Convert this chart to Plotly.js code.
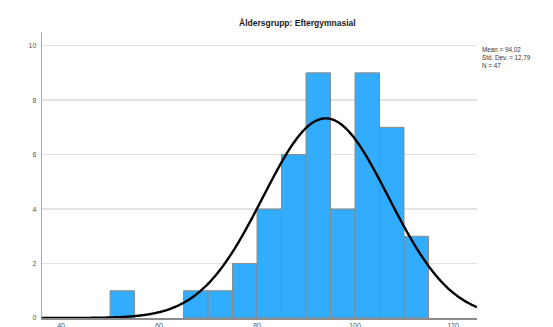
<!DOCTYPE html>
<html>
<head>
<meta charset="utf-8">
<script src="https://cdn.plot.ly/plotly-3.0.1.min.js"></script>
<style>
  html, body { margin: 0; padding: 0; background: #ffffff; }
  #chart { width: 553px; height: 327px; }
</style>
</head>
<body>
<div id="chart"></div>
<script>
// Histogram of the post-secondary age group, with a fitted normal curve
const chartTitle = 'Åldersgrupp: Eftergymnasial';
const binCenters = [52.5, 67.5, 72.5, 77.5, 82.5, 87.5, 92.5, 97.5, 102.5, 107.5, 112.5];
const counts     = [1, 1, 1, 2, 4, 6, 9, 4, 9, 7, 3];
const binWidth = 5;
const meanValue = 94.02;
const stdDev = 12.79;
const nCount = 47;
const xTicks = [40, 60, 80, 100, 120];
const yTicks = [0, 2, 4, 6, 8, 10];

const xMin = 36.1, xMax = 124.9;

// normal curve scaled to the histogram (N * bin width * density)
const curveX = [];
const curveY = [];
const steps = 300;
for (let i = 0; i <= steps; i++) {
  const x = xMin + (xMax - xMin) * i / steps;
  const z = (x - meanValue) / stdDev;
  curveX.push(x);
  curveY.push(nCount * binWidth * Math.exp(-0.5 * z * z) / (stdDev * Math.sqrt(2 * Math.PI)));
}

const fmt = v => v.toFixed(2).replace('.', ',');

const traces = [
  {
    type: 'bar',
    x: binCenters,
    y: counts,
    width: binWidth,
    marker: { color: '#32acfd', line: { color: '#8a8a8a', width: 1 } },
    hoverinfo: 'x+y'
  },
  {
    type: 'scatter',
    mode: 'lines',
    x: curveX,
    y: curveY,
    line: { color: '#000000', width: 2.4, shape: 'spline' },
    hoverinfo: 'skip'
  }
];

const layout = {
  width: 553,
  height: 327,
  margin: { l: 42, r: 76, t: 32, b: 9 },
  paper_bgcolor: '#ffffff',
  plot_bgcolor: '#ffffff',
  showlegend: false,
  font: { family: 'Liberation Sans, Arial, sans-serif', size: 7, color: '#555555' },
  xaxis: {
    range: [xMin, xMax],
    tickvals: xTicks,
    ticktext: xTicks.map(String),
    showgrid: false,
    zeroline: false,
    showline: true,
    linecolor: '#8c8c8c',
    linewidth: 2,
    ticks: '',
    tickfont: { size: 7, color: '#555555' },
    fixedrange: true
  },
  yaxis: {
    range: [0, 10.5],
    tickvals: yTicks,
    ticktext: yTicks.map(String),
    showgrid: true,
    gridcolor: '#e2e2e2',
    gridwidth: 1.5,
    zeroline: false,
    showline: true,
    linecolor: '#a8a8a8',
    linewidth: 1.2,
    ticks: 'outside',
    ticklen: 3,
    tickcolor: 'rgba(0,0,0,0)',
    tickfont: { size: 7, color: '#555555' },
    fixedrange: true
  },
  annotations: [
    {
      xref: 'paper', yref: 'paper',
      x: (297 - 42) / 435, y: 1,
      xanchor: 'center', yanchor: 'bottom',
      yshift: 2,
      text: '<b>' + chartTitle + '</b>',
      showarrow: false,
      font: { family: 'Liberation Sans, Arial, sans-serif', size: 8.5, color: '#1a1a1a' }
    },
    {
      xref: 'paper', yref: 'paper',
      x: 1, y: (318 - 44) / 286,
      xanchor: 'left', yanchor: 'top',
      xshift: 3,
      align: 'left',
      text: 'Mean = ' + fmt(meanValue) + '<br>Std. Dev. = ' + fmt(stdDev) + '<br>N = ' + nCount,
      showarrow: false,
      font: { family: 'Liberation Sans, Arial, sans-serif', size: 6.3, color: '#333333' }
    }
  ]
};

Plotly.newPlot('chart', traces, layout, { displayModeBar: false, staticPlot: true });
</script>
</body>
</html>
